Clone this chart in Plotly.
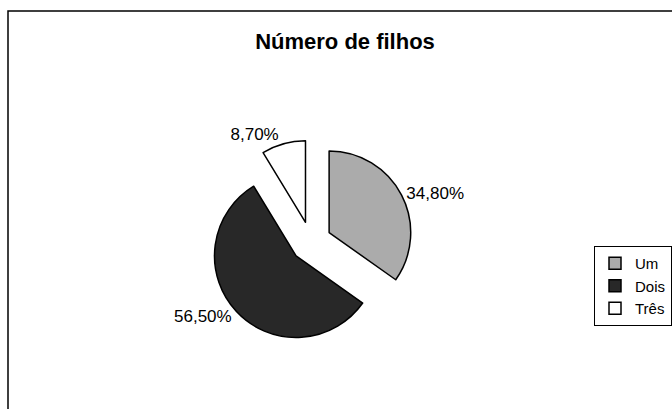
import plotly.graph_objects as go

categories = ["Um", "Dois", "Três"]
values = [34.8, 56.5, 8.7]
colors = ["#ababab", "#282828", "#ffffff"]

cx, cy, size = 311, 242, 204  # pie placement in pixels

fig = go.Figure(go.Pie(
    labels=categories,
    values=values,
    sort=False,
    direction="clockwise",
    rotation=0,
    pull=[0.25, 0.25, 0.25],
    marker=dict(colors=colors, line=dict(color="#000000", width=1.5)),
    textinfo="percent",
    texttemplate="%{percent:.2%}",
    textposition="outside",
    textfont=dict(family="Liberation Sans, Arial, sans-serif", size=17, color="#000"),
    domain=dict(x=[(cx - size / 2) / 672, (cx + size / 2) / 672],
                y=[(409 - cy - size / 2) / 409, (409 - cy + size / 2) / 409]),
))

fig.update_layout(
    width=672, height=409,
    margin=dict(l=0, r=0, t=0, b=0),
    paper_bgcolor="white",
    separators=",.",
    font=dict(family="Liberation Sans, Arial, sans-serif", color="#000"),
    title=dict(text="<b>Número de filhos</b>", x=345 / 672, xanchor="center",
               y=1 - 41 / 409, yanchor="middle",
               font=dict(size=22, color="#000")),
    legend=dict(x=594 / 672, xanchor="left", y=1 - 286 / 409, yanchor="middle",
                bordercolor="#000", borderwidth=1, bgcolor="white",
                font=dict(size=15, color="#000"), itemwidth=30,
                entrywidth=90),
    shapes=[dict(type="rect", xref="paper", yref="paper",
                 x0=8 / 672, x1=1.02, y0=-0.02, y1=1 - 11 / 409,
                 line=dict(color="#000", width=1.5))],
)

fig.write_html("out.html", config={"displayModeBar": False},
               post_script="document.body.style.margin='0';")
